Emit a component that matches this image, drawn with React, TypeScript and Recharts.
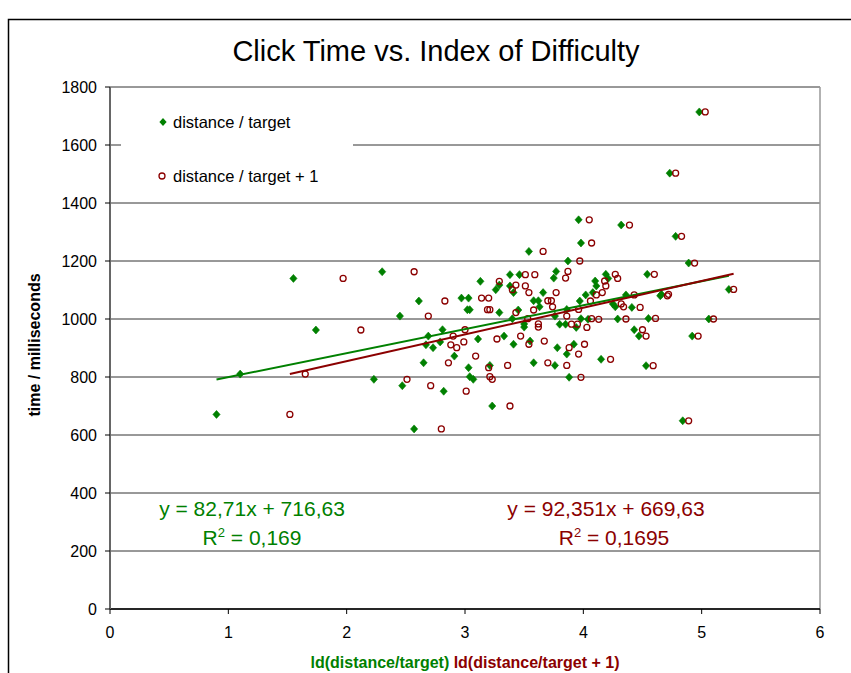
import React from 'react';
import { ScatterChart, Scatter, XAxis, YAxis, CartesianGrid, ReferenceLine } from 'recharts';

// Index of difficulty: ld(distance/target)
const idDistTarget = [
  0.90, 1.10, 1.55, 1.74, 2.30, 2.61, 2.45, 3.13, 2.97, 3.03,
  3.02, 3.04, 3.26, 3.29, 3.29, 2.81, 2.69, 2.67, 2.73, 2.79,
  3.11, 2.91, 2.65, 3.03, 3.21, 2.23, 2.47, 3.04, 3.07, 2.82,
  3.23, 2.57, 3.96, 4.32, 3.98, 3.54, 3.87, 3.77, 3.75, 3.38,
  3.46, 3.38, 3.41, 3.66, 3.58, 3.62, 3.63, 3.45, 3.40, 3.50,
  3.50, 3.76, 3.86, 3.97, 4.02, 4.08, 4.10, 4.11, 4.19, 4.21,
  4.25, 4.27, 4.36, 4.41, 4.54, 4.65, 3.80, 3.85, 3.94, 3.98,
  4.04, 4.29, 4.55, 3.33, 3.41, 3.55, 3.78, 3.92, 3.86, 3.58,
  3.76, 4.15, 4.43, 4.47, 4.53, 3.88, 4.98, 4.73, 4.78, 4.89,
  5.23, 5.06, 4.92, 4.84, 4.66,
];

// Index of difficulty: ld(distance/target + 1)
const idDistTargetPlus1 = [
  1.52, 1.65, 1.97, 2.12, 2.57, 2.83, 2.69, 3.29, 3.14, 3.20,
  3.19, 3.21, 3.40, 3.43, 3.43, 3.00, 2.90, 2.88, 2.93, 2.99,
  3.27, 3.09, 2.86, 3.20, 3.36, 2.51, 2.71, 3.21, 3.23, 3.01,
  3.38, 2.80, 4.05, 4.39, 4.07, 3.66, 3.97, 3.87, 3.85, 3.51,
  3.59, 3.51, 3.54, 3.77, 3.70, 3.73, 3.74, 3.58, 3.53, 3.62,
  3.62, 3.86, 3.96, 4.06, 4.11, 4.16, 4.18, 4.19, 4.27, 4.29,
  4.32, 4.34, 4.43, 4.48, 4.60, 4.71, 3.90, 3.95, 4.03, 4.07,
  4.13, 4.36, 4.61, 3.47, 3.54, 3.67, 3.88, 4.01, 3.96, 3.70,
  3.86, 4.23, 4.50, 4.53, 4.59, 3.98, 5.03, 4.78, 4.83, 4.94,
  5.27, 5.10, 4.97, 4.89, 4.72,
];

// Click time in milliseconds (same measurements for both series)
const clickTimeMs = [
  671, 810, 1140, 962, 1163, 1062, 1010, 1130, 1072, 1072,
  1032, 1032, 1101, 1117, 1022, 963, 941, 911, 901, 921,
  931, 872, 849, 832, 840, 792, 770, 801, 792, 751,
  700, 621, 1342, 1324, 1262, 1233, 1200, 1164, 1141, 1153,
  1153, 1114, 1091, 1091, 1063, 1063, 1042, 1031, 1001, 983,
  972, 1010, 1033, 1062, 1083, 1091, 1131, 1114, 1154, 1140,
  1052, 1042, 1083, 1040, 1154, 1080, 982, 982, 971, 1001,
  999, 1000, 1002, 941, 913, 924, 901, 913, 879, 849,
  840, 861, 963, 941, 839, 799, 1714, 1503, 1285, 1193,
  1102, 1000, 941, 649, 1085,
];

// Trendline endpoints (from the fitted equations)
const trendGreenX = [0.90, 5.23];
const trendGreenY = [791.1, 1149.2];
const trendRedX = [1.52, 5.27];
const trendRedY = [810.0, 1156.3];

const xTicks = [0, 1, 2, 3, 4, 5, 6];
const yTicks = [0, 200, 400, 600, 800, 1000, 1200, 1400, 1600, 1800];

const GREEN = '#008000';
const RED = '#8B0000';
const FONT = '"Liberation Sans", Arial, sans-serif';

const greenData = idDistTarget.map((x, i) => ({ x, y: clickTimeMs[i] }));
const redData = idDistTargetPlus1.map((x, i) => ({ x, y: clickTimeMs[i] }));
const greenTrend = trendGreenX.map((x, i) => ({ x, y: trendGreenY[i] }));
const redTrend = trendRedX.map((x, i) => ({ x, y: trendRedY[i] }));

const Diamond = (p: any) => {
  const { cx, cy } = p;
  if (cx == null || cy == null) return <g />;
  return (
    <polygon
      points={`${cx},${cy - 4} ${cx + 3.6},${cy} ${cx},${cy + 4} ${cx - 3.6},${cy}`}
      fill={GREEN}
      stroke={GREEN}
      strokeWidth={0.6}
    />
  );
};

const Ring = (p: any) => {
  const { cx, cy } = p;
  if (cx == null || cy == null) return <g />;
  return <circle cx={cx} cy={cy} r={3} fill="none" stroke={RED} strokeWidth={1.3} />;
};

const NoDot = () => <g />;

export default function App() {
  return (
    <div style={{ position: 'absolute', left: 0, top: 0, width: 851, height: 673, background: '#fff', overflow: 'hidden' }}>
      <ScatterChart width={851} height={673} margin={{ top: 87, right: 31, bottom: 0, left: 0 }}>
        <CartesianGrid vertical={false} stroke="#333" strokeWidth={1} />
        <XAxis
          type="number"
          dataKey="x"
          domain={[0, 6]}
          ticks={xTicks}
          allowDataOverflow
          height={64}
          tickSize={5}
          tickMargin={13}
          axisLine={{ stroke: '#000', strokeWidth: 1.5 }}
          tickLine={{ stroke: '#000' }}
          tick={{ fill: '#000', fontSize: 16, fontFamily: FONT }}
        />
        <YAxis
          type="number"
          dataKey="y"
          domain={[0, 1800]}
          ticks={yTicks}
          allowDataOverflow
          width={110}
          tickSize={5}
          tickMargin={8}
          axisLine={{ stroke: '#666', strokeWidth: 2 }}
          tickLine={{ stroke: '#000' }}
          tick={{ fill: '#000', fontSize: 16, fontFamily: FONT }}
        />
        <ReferenceLine x={6} stroke="#999" strokeWidth={1.5} />
        <Scatter data={greenData} shape={Diamond} isAnimationActive={false} />
        <Scatter data={redData} shape={Ring} isAnimationActive={false} />
        <Scatter data={greenTrend} line={{ stroke: GREEN, strokeWidth: 2 }} shape={NoDot} isAnimationActive={false} />
        <Scatter data={redTrend} line={{ stroke: RED, strokeWidth: 2 }} shape={NoDot} isAnimationActive={false} />
      </ScatterChart>
      <svg width={851} height={673} style={{ position: 'absolute', left: 0, top: 0, pointerEvents: 'none' }}>
        <rect x={8.5} y={19.5} width={900} height={700} fill="none" stroke="#000" strokeWidth={1.5} />
        <text x={436} y={61} textAnchor="middle" fontSize={29} fontFamily={FONT} fill="#000">
          Click Time vs. Index of Difficulty
        </text>
        {/* legend */}
        <rect x={121} y={100} width={232} height={95} fill="#fff" />
        <polygon points="163,118 166.6,122 163,126 159.4,122" fill={GREEN} />
        <text x={173} y={128} fontSize={16.5} fontFamily={FONT} fill="#000">distance / target</text>
        <circle cx={162} cy={176} r={3} fill="none" stroke={RED} strokeWidth={1.3} />
        <text x={173} y={182} fontSize={16.5} fontFamily={FONT} fill="#000">distance / target + 1</text>
        {/* equations */}
        <text x={252} y={516} textAnchor="middle" fontSize={21} fontFamily={FONT} fill={GREEN}>y = 82,71x + 716,63</text>
        <text x={252} y={545} textAnchor="middle" fontSize={21} fontFamily={FONT} fill={GREEN}>
          R<tspan dy={-8} fontSize={13}>2</tspan><tspan dy={8}> = 0,169</tspan>
        </text>
        <text x={606} y={516} textAnchor="middle" fontSize={21} fontFamily={FONT} fill={RED}>y = 92,351x + 669,63</text>
        <text x={614} y={545} textAnchor="middle" fontSize={21} fontFamily={FONT} fill={RED}>
          R<tspan dy={-8} fontSize={13}>2</tspan><tspan dy={8}> = 0,1695</tspan>
        </text>
        {/* axis titles */}
        <text x={40} y={345} transform="rotate(-90 40 345)" textAnchor="middle" fontSize={16} fontWeight="bold" fontFamily={FONT} fill="#000">
          time / milliseconds
        </text>
        <text x={465} y={668} textAnchor="middle" fontSize={16} fontWeight="bold" fontFamily={FONT}>
          <tspan fill={GREEN}>ld(distance/target)</tspan>
          <tspan fill={RED}> ld(distance/target + 1)</tspan>
        </text>
      </svg>
    </div>
  );
}
